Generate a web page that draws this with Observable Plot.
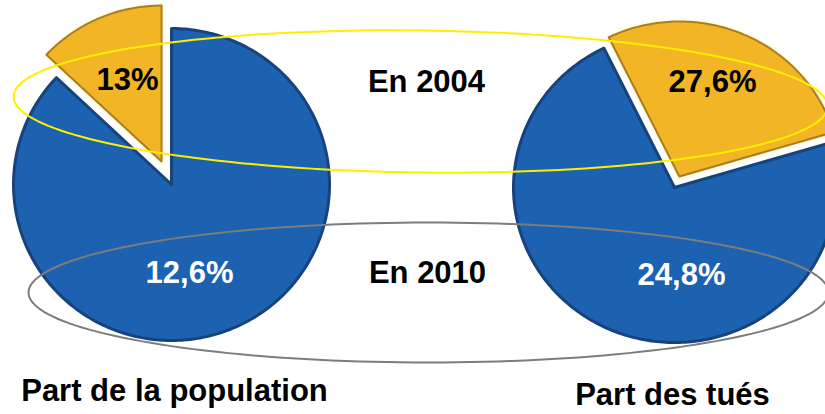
<!DOCTYPE html>
<html><head><meta charset="utf-8">
<script src="https://cdn.jsdelivr.net/npm/d3@7"></script>
<script src="https://cdn.jsdelivr.net/npm/@observablehq/plot@0.6"></script>
<style>
body{margin:0;background:#fff;}
#chart svg{display:block;}
</style>
</head><body><div id="chart"></div>
<script>
// ---- data ----
const pieTitles = ["Part de la population", "Part des tués"];
const share2004 = [13, 27.6];          // orange (exploded) slice, %
const share2010 = [12.6, 24.8];        // 2010 values
const labels2004 = ["13%", "27,6%"];
const labels2010 = ["12,6%", "24,8%"];
const yearLabels = ["En 2004", "En 2010"];

// ---- layout (positions only) ----
const pieLayout = [
  {cx: 171, cy: 184, rx: 158, ry: 156, start: -share2004[0] * 3.6, explode: 25},
  {cx: 674, cy: 187, rx: 161, ry: 155, start: -26, explode: 12}
];
const lab2004Pos = [[127, 80], [712, 82]];
const lab2010Pos = [[189, 273], [681, 275]];
const yearPos = [[426, 82], [427, 273]];
const titlePos = [[174, 391], [672, 395]];
const ellipses = [
  {cx: 420, cy: 101, rx: 407, ry: 71, rot: 0.7, color: "#ffee00"},
  {cx: 428, cy: 292, rx: 400, ry: 70, rot: 0, color: "#7d7d7d"}
];

const rad = d => d * Math.PI / 180;
function wedge(id, p, a0, a1, off) {
  const mid = rad((a0 + a1) / 2);
  const dx = off * Math.sin(mid), dy = -off * Math.cos(mid);
  const cx = p.cx + dx, cy = p.cy + dy;
  const pts = [{id, x: cx, y: cy}];
  const n = Math.max(2, Math.ceil(Math.abs(a1 - a0)));
  for (let i = 0; i <= n; i++) {
    const a = rad(a0 + (a1 - a0) * i / n);
    pts.push({id, x: cx + p.rx * Math.sin(a), y: cy - p.ry * Math.cos(a)});
  }
  pts.push({id, x: cx, y: cy});
  return pts;
}

const blueRows = [], orangeRows = [];
pieLayout.forEach((p, i) => {
  const a0 = p.start, a1 = p.start + share2004[i] * 3.6;
  orangeRows.push(...wedge("o" + i, p, a0, a1, p.explode));
  blueRows.push(...wedge("b" + i, p, a1, a0 + 360, 0));
});

const ellRows = [];
ellipses.forEach((e, i) => {
  const r = rad(e.rot);
  for (let k = 0; k <= 360; k += 2) {
    const t = rad(k);
    const ux = e.rx * Math.cos(t), uy = e.ry * Math.sin(t);
    ellRows.push({id: i, color: e.color, x: e.cx + ux * Math.cos(r) - uy * Math.sin(r), y: e.cy + ux * Math.sin(r) + uy * Math.cos(r)});
  }
});

const font = "Liberation Sans, Arial, sans-serif";
const t2004 = labels2004.map((t, i) => ({t, x: lab2004Pos[i][0], y: lab2004Pos[i][1]}));
const t2010 = labels2010.map((t, i) => ({t, x: lab2010Pos[i][0], y: lab2010Pos[i][1]}));
const tYears = yearLabels.map((t, i) => ({t, x: yearPos[i][0], y: yearPos[i][1]}));
const tTitles = pieTitles.map((t, i) => ({t, x: titlePos[i][0], y: titlePos[i][1]}));

const chart = Plot.plot({
  width: 825, height: 414, margin: 0,
  style: {background: "#fff", overflow: "hidden"},
  x: {domain: [0, 825], range: [0, 825], axis: null},
  y: {domain: [0, 414], range: [0, 414], axis: null},
  marks: [
    Plot.line(blueRows, {x: "x", y: "y", z: "id", fill: "#1c62b0", stroke: "#17427c", strokeWidth: 3, strokeLinejoin: "round"}),
    Plot.line(orangeRows, {x: "x", y: "y", z: "id", fill: "#fff", stroke: "#fffbe8", strokeWidth: 6, strokeLinejoin: "round"}),
    Plot.line(orangeRows, {x: "x", y: "y", z: "id", fill: "#f2b526", stroke: "#a97f1c", strokeWidth: 2, strokeLinejoin: "round"}),
    Plot.line(ellRows, {x: "x", y: "y", z: "id", stroke: "color", strokeWidth: 2}),
    Plot.text(t2004, {x: "x", y: "y", text: "t", fill: "#000", fontSize: 31, fontWeight: "bold", fontFamily: font}),
    Plot.text(tYears, {x: "x", y: "y", text: "t", fill: "#000", fontSize: 31, fontWeight: "bold", fontFamily: font}),
    Plot.text(t2010, {x: "x", y: "y", text: "t", fill: "#fff", fontSize: 31, fontWeight: "bold", fontFamily: font}),
    Plot.text(tTitles, {x: "x", y: "y", text: "t", fill: "#000", fontSize: 31, fontWeight: "bold", fontFamily: font})
  ]
});
document.getElementById("chart").appendChild(chart);
</script>
</body></html>
